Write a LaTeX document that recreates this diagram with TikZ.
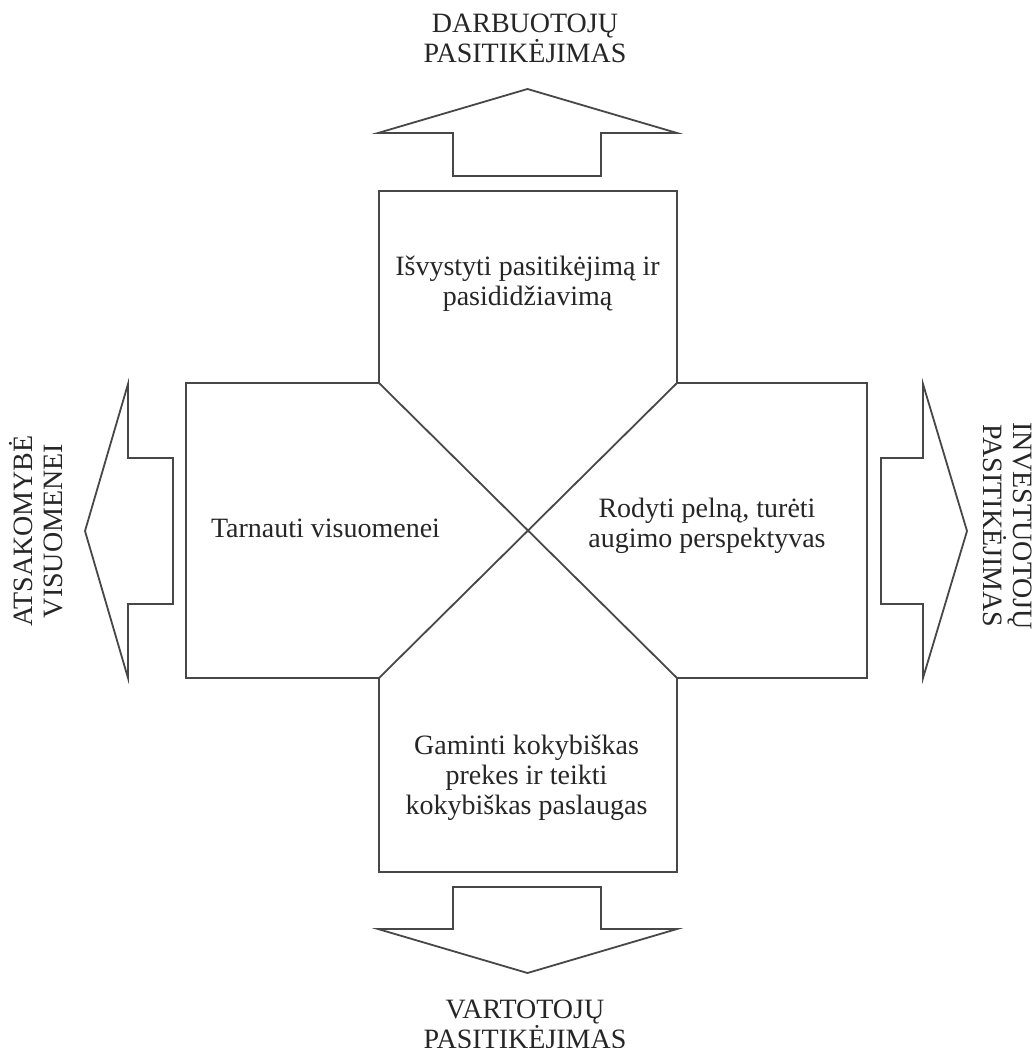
\documentclass[tikz,border=0pt]{standalone}
\usepackage{fontspec}
\setmainfont{Liberation Serif}
\begin{document}
\begin{tikzpicture}[x=0.5pt,y=-0.5pt,
  outline/.style={draw=black!72, line width=0.9pt, line join=miter},
  txt/.style={font=\fontsize{14}{15}\selectfont, text=black!85, inner sep=0pt, align=center, anchor=base},
]
\useasboundingbox (0,0) rectangle (1036,1048);
% corners of the central cross
\coordinate (TL) at (379,383);
\coordinate (TR) at (677,383);
\coordinate (BL) at (379,678);
\coordinate (BR) at (677,678);
% boxes
\draw[outline] (TL) -- (379,191) -- (677,191) -- (TR);
\draw[outline] (TL) -- (186,383) -- (186,678) -- (BL);
\draw[outline] (TR) -- (867,383) -- (867,678) -- (BR);
\draw[outline] (BL) -- (379,872) -- (677,872) -- (BR);
% diagonals
\draw[outline] (TL) -- (BR);
\draw[outline] (TR) -- (BL);
% block arrows
\draw[outline] (453,176) -- (453,133) -- (378,133) -- (527.5,89) -- (677,133) -- (601,133) -- (601,176) -- cycle;
\draw[outline] (453,887) -- (453,929) -- (378,929) -- (527.5,973) -- (677,929) -- (601,929) -- (601,887) -- cycle;
\draw[outline] (173,458) -- (128,458) -- (128,384) -- (85,531) -- (128,678) -- (128,604) -- (173,604) -- cycle;
\draw[outline] (881,458) -- (923,458) -- (923,384) -- (967,531) -- (923,678) -- (923,604) -- (881,604) -- cycle;
% box texts (anchor = baseline of the last line)
\node[txt] (ttop) at (527.5,305) {Išvystyti pasitikėjimą ir\\pasididžiavimą};
\node[txt] (tleft) at (325.5,537) {Tarnauti visuomenei};
\node[txt] (tright) at (707,547) {Rodyti pelną, turėti\\augimo perspektyvas};
\node[txt] (tbottom) at (526.5,814) {Gaminti kokybiškas\\prekes ir teikti\\kokybiškas paslaugas};
% arrow labels
\node[txt] (ltop) at (525,63) {DARBUOTOJŲ\\PASITIKĖJIMAS};
\node[txt] (lbottom) at (525,1048) {VARTOTOJŲ\\PASITIKĖJIMAS};
\node[txt, rotate=90] (lleft) at (62,531) {ATSAKOMYBĖ\\VISUOMENEI};
\node[txt, rotate=-90] (lright) at (983,526) {INVESTUOTOJŲ\\PASITIKĖJIMAS};
\end{tikzpicture}
\end{document}
